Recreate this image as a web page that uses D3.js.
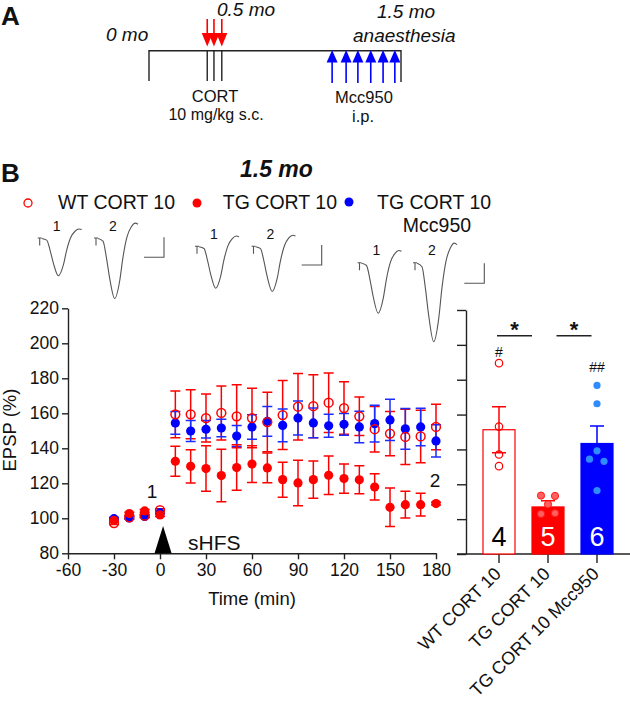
<!DOCTYPE html>
<html>
<head>
<meta charset="utf-8">
<script src="https://cdn.jsdelivr.net/npm/d3@7"></script>
<style>
body { margin: 0; background: #fff; }
svg { display: block; font-family: "Liberation Sans", Arial, Helvetica, sans-serif; }
</style>
</head>
<body>
<script>
// ---- panel A: timeline (days, 0 .. 45 = 1.5 mo) ----
var cortDays = [10.4, 11.6, 13.0];
var mccDays = [32.7, 35.2, 37.3, 39.6, 41.8, 43.9];

// ---- panel B: LTP time course ----
var times = [-30, -20, -10, 0, 10, 20, 30, 40, 50, 60, 70, 80, 90, 100, 110, 120, 130, 140, 150, 160, 170, 180];
var wtMean = [97.3, 100.5, 101.5, 104.6, 159.4, 159.4, 157.3, 160.2, 158.3, 157.3, 155.0, 159.0, 163.8, 164.1, 166.1, 163.0, 158.3, 150.9, 148.4, 146.5, 146.8, 152.2];
var wtSem = [0.8, 0.8, 0.8, 0.8, 13.4, 14, 13.7, 15.4, 18, 17, 17, 19.7, 19, 18, 17, 15, 11, 13, 12.7, 15.8, 15, 13];
var tgMean = [98.9, 102.7, 104.2, 101.9, 132.6, 129.7, 128.4, 124.4, 129.0, 131.0, 128.8, 122.1, 120.2, 122.1, 124.6, 122.7, 122.0, 117.9, 106.3, 107.8, 107.8, 108.4];
var tgSem = [0.8, 0.8, 0.8, 0.8, 8.6, 9.5, 13, 15, 13, 10.5, 8.5, 10, 13, 10.7, 11, 8.4, 8, 7.5, 11, 7.6, 6.5, 0.8];
var mccMean = [99.8, 100.2, 101.1, 103.2, 154.5, 149.9, 150.9, 151.6, 147.0, 152.2, 155.4, 153.1, 157.3, 154.5, 152.9, 153.7, 152.2, 154.1, 156.2, 151.1, 152.2, 144.2];
var mccSem = [0.8, 0.8, 0.8, 0.8, 6.5, 6, 5, 5, 6, 7, 8.5, 9.4, 9.7, 8.5, 6.6, 6.2, 9, 10.5, 11.8, 11.7, 10.7, 9.2];
var xTicks = [-60, -30, 0, 30, 60, 90, 120, 150, 180];
var yTicks = [80, 100, 120, 140, 160, 180, 200, 220];

// ---- bar summary (last 10 min) ----
var barCats = ["WT CORT 10", "TG CORT 10", "TG CORT 10 Mcc950"];
var barMean = [151.3, 107.0, 143.4];
var barSem = [13.2, 3.6, 10.0];
var wtPts = [189.5, 153.1, 137.1, 130.4];
var tgPts = [113.5, 113.3, 108.5, 103.0, 103.4];
var mccPts = [176.7, 166.2, 139.2, 134.4, 133.2, 116.4];
var barMarks = ["#", "", "##"];

var traceU = [0, 0.125, 0.208, 0.292, 0.417, 0.542, 0.625, 0.725, 0.833, 0.933, 1];
var traceV = [0, 0.044, 0.31, 0.664, 1, 0.708, 0.31, -0.027, -0.195, -0.257, -0.239];
var traceAmp = [[0.93, 1.5], [1.04, 1.12], [1.25, 1.96]];

var red = "#ff0000", blue = "#0000ff";
var W = 630, H = 701;

var svg = d3.select("body").append("svg").attr("width", W).attr("height", H);

function txt(x, y, s, size, opts) {
  opts = opts || {};
  return svg.append("text").attr("x", x).attr("y", y)
    .attr("font-size", size)
    .attr("font-weight", opts.bold ? "bold" : null)
    .attr("font-style", opts.italic ? "italic" : null)
    .attr("text-anchor", opts.anchor || "start")
    .attr("fill", opts.fill || "#111")
    .text(s);
}

// ================= panel A =================
txt(1, 25, "A", 26, {bold: true});
var xDay = d3.scaleLinear().domain([0, 45]).range([149, 401]);
var tl = svg.append("g").attr("stroke", "#222").attr("stroke-width", 1.4).attr("fill", "none");
tl.append("path").attr("d", d3.line()([[xDay(0), 81], [xDay(0), 50.7], [xDay(45), 50.7], [xDay(45), 82]]));
tl.selectAll("line.cort").data(cortDays).enter().append("line")
  .attr("x1", d => xDay(d)).attr("x2", d => xDay(d)).attr("y1", 50.7).attr("y2", 81);

// red CORT arrows (down)
var ra = svg.append("g");
cortDays.forEach(function(d) {
  var x = xDay(d);
  ra.append("line").attr("x1", x).attr("x2", x).attr("y1", 19).attr("y2", 35)
    .attr("stroke", red).attr("stroke-width", 1.6);
  ra.append("path").attr("d", d3.line()([[x - 5.5, 33], [x + 5.5, 33], [x, 46.5]])).attr("fill", red);
});
// blue Mcc950 arrows (up)
mccDays.forEach(function(d) {
  var x = xDay(d);
  svg.append("line").attr("x1", x).attr("x2", x).attr("y1", 83).attr("y2", 60)
    .attr("stroke", blue).attr("stroke-width", 1.6);
  svg.append("path").attr("d", d3.line()([[x - 5.5, 62.5], [x + 5.5, 62.5], [x, 50]])).attr("fill", blue);
});

txt(106, 41, "0 mo", 19, {italic: true});
txt(217, 16, "0.5 mo", 19, {italic: true});
txt(377, 18, "1.5 mo", 19, {italic: true});
txt(353, 42, "anaesthesia", 19, {italic: true});
txt(215, 102, "CORT", 16.5, {anchor: "middle"});
txt(216, 120, "10 mg/kg s.c.", 16, {anchor: "middle"});
txt(364, 103, "Mcc950", 16.5, {anchor: "middle"});
txt(363, 122, "i.p.", 16.5, {anchor: "middle"});

// ================= panel B =================
txt(1, 182, "B", 26, {bold: true});
txt(240, 177, "1.5 mo", 23, {bold: true, italic: true});

// legend
svg.append("circle").attr("cx", 28).attr("cy", 203).attr("r", 4).attr("fill", "none").attr("stroke", red).attr("stroke-width", 1.3);
txt(58, 209, "WT CORT 10", 19.5);
svg.append("circle").attr("cx", 197).attr("cy", 203).attr("r", 4.5).attr("fill", red);
txt(337, 209, "TG CORT 10", 19.5, {anchor: "end"});
svg.append("circle").attr("cx", 349).attr("cy", 202).attr("r", 4.5).attr("fill", blue);
txt(377, 209, "TG CORT 10", 19.5);
txt(437, 232, "Mcc950", 19.5, {anchor: "middle"});

// example traces
var traceStart = [[41.7, 98], [199, 255.5], [361.5, 417]];
var traceBase = [238.5, 246.7, 263.3];
var scaleCorner = [[164, 257.3], [321.7, 265], [484.3, 283.3]];
var pxPerMs = 4, pxPerMv = 40, traceMs = 10;
var traceLine = d3.line().curve(d3.curveMonotoneX);
traceAmp.forEach(function(amps, gi) {
  var by = traceBase[gi];
  amps.forEach(function(a, ti) {
    var sx = traceStart[gi][ti];
    var tx = d3.scaleLinear().domain([0, 1]).range([sx, sx + traceMs * pxPerMs]);
    var ty = d3.scaleLinear().domain([0, 1]).range([by, by + a * pxPerMv]);
    var pts = traceU.map((u, i) => [tx(u), ty(traceV[i])]);
    svg.append("path").attr("d", traceLine(pts)).attr("fill", "none")
      .attr("stroke", "#555").attr("stroke-width", 1.1);
    // stimulus artefact
    svg.append("path").attr("d", "M" + (sx - 4) + "," + (by - 0.5) + "H" + sx + "M" + (sx - 2) + "," + (by - 0.5) + "V" + (by + 7))
      .attr("fill", "none").attr("stroke", "#555").attr("stroke-width", 1.1);
    txt(sx + 15, by - 8, String(ti + 1), 14, {anchor: "middle", fill: "#111"});
  });
  var c = scaleCorner[gi];
  svg.append("path").attr("d", d3.line()([[c[0] - 5 * pxPerMs, c[1]], c, [c[0], c[1] - 0.5 * pxPerMv]]))
    .attr("fill", "none").attr("stroke", "#555").attr("stroke-width", 1.1);
});

// ---- main time course ----
var x = d3.scaleLinear().domain([-60, 180]).range([68, 436]);
var y = d3.scaleLinear().domain([80, 220]).range([553.3, 308.3]);

var gx = svg.append("g").attr("transform", "translate(0," + y(80) + ")")
  .call(d3.axisBottom(x).tickValues(xTicks).tickFormat(d => String(d)).tickSize(6).tickSizeOuter(0).tickPadding(4));
var gy = svg.append("g").attr("transform", "translate(" + x(-60) + ",0)")
  .call(d3.axisLeft(y).tickValues(yTicks).tickFormat(d => String(d)).tickSize(6).tickSizeOuter(0).tickPadding(3));
[gx, gy].forEach(function(g) {
  g.attr("font-family", null);
  g.select(".domain").attr("stroke", "#222").attr("stroke-width", 1.4);
  g.selectAll(".tick line").attr("stroke", "#222").attr("stroke-width", 1.4);
  g.selectAll(".tick text").attr("font-size", 17.5).attr("fill", "#111");
});

svg.append("text").attr("transform", "translate(16,430) rotate(-90)")
  .attr("text-anchor", "middle").attr("font-size", 18.5).attr("fill", "#111").text("EPSP (%)");
txt(252, 605, "Time (min)", 18.5, {anchor: "middle"});

// sHFS marker
svg.append("path").attr("d", d3.line()([[x(2) - 8.5, y(80)], [x(2) + 8.5, y(80)], [x(2), 526]])).attr("fill", "#000");
txt(188, 550, "sHFS", 21);
txt(152, 498, "1", 19, {anchor: "middle"});
txt(435, 487, "2", 19, {anchor: "middle"});

function errBars(mean, sem, color) {
  var g = svg.append("g").attr("stroke", color).attr("stroke-width", 1.5).attr("fill", "none");
  times.forEach(function(t, i) {
    var cx = x(t), lo = y(mean[i] - sem[i]), hi = y(mean[i] + sem[i]);
    g.append("path").attr("d", "M" + cx + "," + lo + "V" + hi + "M" + (cx - 5) + "," + hi + "H" + (cx + 5) + "M" + (cx - 5) + "," + lo + "H" + (cx + 5));
  });
}
errBars(wtMean, wtSem, red);
errBars(mccMean, mccSem, "#1a2cff");
errBars(tgMean, tgSem, red);

svg.append("g").selectAll("circle").data(times).enter().append("circle")
  .attr("cx", d => x(d)).attr("cy", (d, i) => y(mccMean[i])).attr("r", 4.6).attr("fill", blue);
svg.append("g").selectAll("circle").data(times).enter().append("circle")
  .attr("cx", d => x(d)).attr("cy", (d, i) => y(wtMean[i])).attr("r", 4.4)
  .attr("fill", "none").attr("stroke", red).attr("stroke-width", 1.5);
svg.append("g").selectAll("circle").data(times).enter().append("circle")
  .attr("cx", d => x(d)).attr("cy", (d, i) => y(tgMean[i])).attr("r", 4.6).attr("fill", red);

// ---- bar chart ----
var yb = d3.scaleLinear().domain([80, 220]).range([554, 310]);
var xb = d3.scalePoint().domain(barCats).range([499, 597]);
var bw = 32;

var gyb = svg.append("g").attr("transform", "translate(466,0)")
  .call(d3.axisLeft(yb).tickValues(yTicks).tickSize(9).tickSizeOuter(0).tickFormat(""));
gyb.select(".domain").attr("stroke", "#222").attr("stroke-width", 1.4);
gyb.selectAll(".tick line").attr("stroke", "#222").attr("stroke-width", 1.4);
svg.append("line").attr("x1", 457).attr("x2", 630).attr("y1", yb(80)).attr("y2", yb(80))
  .attr("stroke", "#222").attr("stroke-width", 1.4);
svg.append("g").selectAll("line").data(barCats).enter().append("line")
  .attr("x1", d => xb(d)).attr("x2", d => xb(d)).attr("y1", yb(80)).attr("y2", yb(80) + 9)
  .attr("stroke", "#222").attr("stroke-width", 1.4);

var barFill = ["#fff", red, blue];
var barStroke = [red, red, blue];
svg.append("g").selectAll("rect").data(barCats).enter().append("rect")
  .attr("x", d => xb(d) - bw / 2).attr("width", bw)
  .attr("y", (d, i) => yb(barMean[i])).attr("height", (d, i) => yb(80) - yb(barMean[i]))
  .attr("fill", (d, i) => barFill[i]).attr("stroke", (d, i) => barStroke[i]).attr("stroke-width", 1.2);

barCats.forEach(function(c, i) {
  var cx = xb(c), hi = yb(barMean[i] + barSem[i]), lo = yb(barMean[i] - barSem[i]);
  svg.append("path").attr("d", "M" + cx + "," + lo + "V" + hi + "M" + (cx - 7) + "," + hi + "H" + (cx + 7) + "M" + (cx - 7) + "," + lo + "H" + (cx + 7))
    .attr("stroke", barStroke[i]).attr("stroke-width", 1.5).attr("fill", "none");
});

// individual animals
var tgJitter = [-7, 7, 0, -7, 7];
var mccJitter = [0, 0, 0, -7.5, 7, 0];
svg.append("g").selectAll("circle").data(wtPts).enter().append("circle")
  .attr("cx", xb(barCats[0])).attr("cy", d => yb(d)).attr("r", 3.7)
  .attr("fill", "none").attr("stroke", red).attr("stroke-width", 1.2);
svg.append("g").selectAll("circle").data(tgPts).enter().append("circle")
  .attr("cx", (d, i) => xb(barCats[1]) + tgJitter[i]).attr("cy", d => yb(d)).attr("r", 3.6)
  .attr("fill", "#ff5f5f").attr("stroke", "#ff1a1a").attr("stroke-width", 1);
svg.append("g").selectAll("circle").data(mccPts).enter().append("circle")
  .attr("cx", (d, i) => xb(barCats[2]) + mccJitter[i]).attr("cy", d => yb(d)).attr("r", 3.6)
  .attr("fill", "#2f8cff");

// n per group
var nFill = ["#000", "#fff", "#fff"];
var nCounts = [wtPts.length, tgPts.length, mccPts.length];
barCats.forEach(function(c, i) {
  txt(xb(c), 546, String(nCounts[i]), 27, {anchor: "middle", fill: nFill[i]});
  if (barMarks[i]) {
    var top = d3.max([wtPts, tgPts, mccPts][i]);
    txt(xb(c), yb(top) - (i === 0 ? 6 : 13), barMarks[i], 14, {anchor: "middle"});
  }
});

// significance (star centres sit a little left of / right of the midpoints)
var sigPairs = [[0, 1, -9], [1, 2, 1.5]];
sigPairs.forEach(function(p) {
  var mid = (xb(barCats[p[0]]) + xb(barCats[p[1]])) / 2 + p[2];
  svg.append("line").attr("x1", mid - 17.5).attr("x2", mid + 17.5).attr("y1", 335.7).attr("y2", 335.7)
    .attr("stroke", "#222").attr("stroke-width", 1.5);
  txt(mid, 337, "*", 22, {anchor: "middle", bold: true});
});

// category labels
svg.append("g").selectAll("text").data(barCats).enter().append("text")
  .attr("transform", d => "translate(" + (xb(d) + 3) + ",575) rotate(-45)")
  .attr("text-anchor", "end").attr("font-size", 18).attr("fill", "#111").text(d => d);
</script>
</body>
</html>
